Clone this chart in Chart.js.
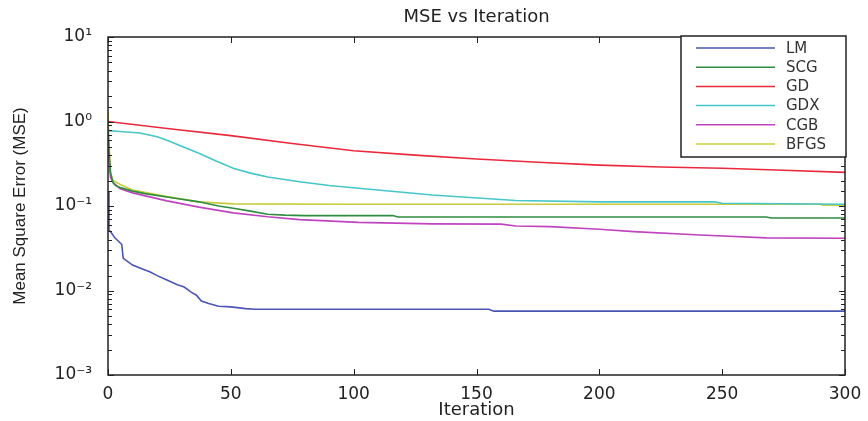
<!DOCTYPE html>
<html>
<head>
<meta charset="utf-8">
<title>MSE vs Iteration</title>
<script src="https://cdn.jsdelivr.net/npm/chart.js@4.4.1/dist/chart.umd.min.js"></script>
<style>
    html, body { margin: 0; padding: 0; background: #ffffff; }
    #wrap { width: 868px; height: 421px; }
</style>
</head>
<body>
<div id="wrap"><canvas id="mseChart" width="868" height="421"></canvas></div>
<script>
// Values (iteration -> mean square error)
const labels = ['LM', 'SCG', 'GD', 'GDX', 'CGB', 'BFGS'];
const colors = ['#4a56b4', '#2f8c40', '#ea2a3c', '#46c6c8', '#c044c0', '#c8cc3a'];

const iterLM = [0, 0.4, 1, 2.8, 5.6, 6.2, 10, 14, 17, 20, 24, 28, 31, 34, 36, 38, 41, 45, 50, 56, 60, 100, 155, 157, 300];
const mseLM  = [0.15, 0.052, 0.05, 0.042, 0.035, 0.024, 0.020, 0.018, 0.0167, 0.015, 0.0133, 0.0118, 0.011, 0.0095, 0.0088, 0.0075, 0.007, 0.0065, 0.0064, 0.0061, 0.006, 0.006, 0.006, 0.0057, 0.0057];

const iterSCG = [0, 0.5, 1, 2, 3, 5, 10, 15, 24, 30, 37, 45, 51, 58, 65, 72, 80, 116, 118, 268, 270, 300];
const mseSCG  = [0.8, 0.4, 0.25, 0.19, 0.175, 0.165, 0.15, 0.14, 0.128, 0.12, 0.112, 0.1, 0.094, 0.087, 0.08, 0.078, 0.077, 0.077, 0.074, 0.074, 0.072, 0.072];

const iterGD = [0, 25, 50, 75, 100, 125, 150, 175, 200, 225, 250, 275, 300];
const mseGD  = [1.0, 0.82, 0.68, 0.55, 0.45, 0.40, 0.36, 0.33, 0.305, 0.29, 0.28, 0.265, 0.25];

const iterGDX = [0, 5, 13, 20, 24, 30, 37, 44, 51, 58, 65, 78, 90, 102, 132, 166, 200, 247, 250, 300];
const mseGDX  = [0.78, 0.76, 0.73, 0.66, 0.60, 0.51, 0.42, 0.34, 0.28, 0.245, 0.22, 0.194, 0.175, 0.162, 0.135, 0.116, 0.112, 0.112, 0.108, 0.105];

const iterCGB = [0, 1, 2, 5, 10, 24, 37, 51, 65, 78, 102, 132, 160, 166, 180, 200, 214, 241, 268, 300];
const mseCGB  = [0.5, 0.22, 0.19, 0.16, 0.143, 0.115, 0.097, 0.083, 0.0746, 0.069, 0.064, 0.0615, 0.061, 0.058, 0.057, 0.053, 0.0497, 0.0454, 0.042, 0.0415];

const iterBFGS = [0, 0.5, 1, 2, 5, 10, 24, 37, 51, 100, 290, 291, 300];
const mseBFGS  = [1.3, 0.5, 0.25, 0.2, 0.18, 0.155, 0.129, 0.112, 0.106, 0.105, 0.105, 0.102, 0.102];

const xTicks = [0, 50, 100, 150, 200, 250, 300];
const yMin = 0.001;
const yMax = 10;

const seriesIter = [iterLM, iterSCG, iterGD, iterGDX, iterCGB, iterBFGS];
const seriesMse = [mseLM, mseSCG, mseGD, mseGDX, mseCGB, mseBFGS];

function toPoints(xs, ys) {
    return xs.map(function(x, i) { return { x: x, y: ys[i] }; });
}

function isDecade(v) {
    const l = Math.log10(v);
    return Math.abs(l - Math.round(l)) < 1e-9;
}

function supText(n) {
    const map = { '-': '\u207B', '0': '\u2070', '1': '\u00B9', '2': '\u00B2', '3': '\u00B3',
                  '4': '\u2074', '5': '\u2075', '6': '\u2076', '7': '\u2077', '8': '\u2078', '9': '\u2079' };
    return String(n).split('').map(function(c) { return map[c]; }).join('');
}

// MATLAB style box with inward tick marks
const axesBox = {
    id: 'axesBox',
    afterDatasetsDraw(chart) {
        const ctx = chart.ctx;
        const a = chart.chartArea;
        const xs = chart.scales.x;
        const ys = chart.scales.y;
        ctx.save();
        ctx.strokeStyle = '#222222';
        ctx.lineWidth = 1;
        ctx.beginPath();
        xs.ticks.forEach(function(t) {
            const px = Math.round(xs.getPixelForValue(t.value)) + 0.5;
            ctx.moveTo(px, a.bottom); ctx.lineTo(px, a.bottom - 6);
            ctx.moveTo(px, a.top); ctx.lineTo(px, a.top + 6);
        });
        ys.ticks.forEach(function(t) {
            const py = Math.round(ys.getPixelForValue(t.value)) + 0.5;
            const len = isDecade(t.value) ? 6 : 4;
            ctx.moveTo(a.left, py); ctx.lineTo(a.left + len, py);
            ctx.moveTo(a.right, py); ctx.lineTo(a.right - len, py);
        });
        ctx.stroke();
        ctx.lineWidth = 1.5;
        ctx.strokeRect(a.left, a.top, a.right - a.left, a.bottom - a.top);
        ctx.restore();
    }
};

// legend box in the top right corner of the axes
const boxLegend = {
    id: 'boxLegend',
    afterDraw(chart) {
        const ctx = chart.ctx;
        const a = chart.chartArea;
        const w = 165, rowH = 19.2;
        const h = 121;
        const left = a.right - w + 1;
        const top = a.top - 1;
        ctx.save();
        ctx.fillStyle = '#ffffff';
        ctx.fillRect(left, top, w, h);
        ctx.strokeStyle = '#222222';
        ctx.lineWidth = 1.5;
        ctx.strokeRect(left, top, w, h);
        ctx.font = '15px "DejaVu Sans"';
        ctx.textBaseline = 'middle';
        chart.data.datasets.forEach(function(ds, i) {
            const y = top + 12 + i * rowH;
            ctx.strokeStyle = ds.borderColor;
            ctx.lineWidth = 1.5;
            ctx.beginPath();
            ctx.moveTo(left + 15, y);
            ctx.lineTo(left + 94, y);
            ctx.stroke();
            ctx.fillStyle = '#333333';
            ctx.fillText(ds.label, left + 105, y + 1);
        });
        ctx.restore();
    }
};

const datasets = labels.map(function(name, i) {
    return {
        label: name,
        data: toPoints(seriesIter[i], seriesMse[i]),
        borderColor: colors[i],
        backgroundColor: colors[i],
        borderWidth: 1.6,
        pointRadius: 0,
        tension: 0,
        fill: false
    };
});

const ctx = document.getElementById('mseChart').getContext('2d');
window.mseChart = new Chart(ctx, {
    type: 'line',
    data: { datasets: datasets },
    options: {
        responsive: false,
        animation: false,
        layout: { padding: { left: 0, right: 23, top: 0, bottom: 0 } },
        plugins: {
            legend: { display: false },
            tooltip: { enabled: false },
            title: {
                display: true,
                text: 'MSE vs Iteration',
                fullSize: false,
                color: '#222222',
                font: { family: 'DejaVu Sans', size: 18, weight: 'normal' },
                padding: { top: 7, bottom: 8.4 }
            }
        },
        scales: {
            x: {
                type: 'linear',
                min: xTicks[0],
                max: xTicks[xTicks.length - 1],
                grid: { display: false },
                border: { display: false },
                afterBuildTicks: function(scale) {
                    scale.ticks = xTicks.map(function(v) { return { value: v }; });
                },
                afterFit: function(scale) { scale.height = 46; },
                ticks: {
                    color: '#222222',
                    padding: 1,
                    font: { family: 'DejaVu Sans', size: 17 },
                    maxRotation: 0
                },
                title: {
                    display: true,
                    text: 'Iteration',
                    color: '#222222',
                    font: { family: 'DejaVu Sans', size: 18 },
                    padding: { top: 0, bottom: 0 }
                }
            },
            y: {
                type: 'logarithmic',
                min: yMin,
                max: yMax,
                grid: { display: false },
                border: { display: false },
                afterFit: function(scale) { scale.width = 108; },
                ticks: {
                    autoSkip: false,
                    color: '#222222',
                    padding: 8,
                    crossAlign: 'near',
                    font: { family: 'DejaVu Sans', size: 17 },
                    callback: function(value) {
                        if (!isDecade(value)) return '';
                        return '10' + supText(Math.round(Math.log10(value)));
                    }
                },
                title: {
                    display: true,
                    text: 'Mean Square Error (MSE)',
                    color: '#222222',
                    font: { family: 'Liberation Sans', size: 17 },
                    padding: { top: 10, bottom: 0 }
                }
            }
        }
    },
    plugins: [axesBox, boxLegend]
});
</script>
</body>
</html>
